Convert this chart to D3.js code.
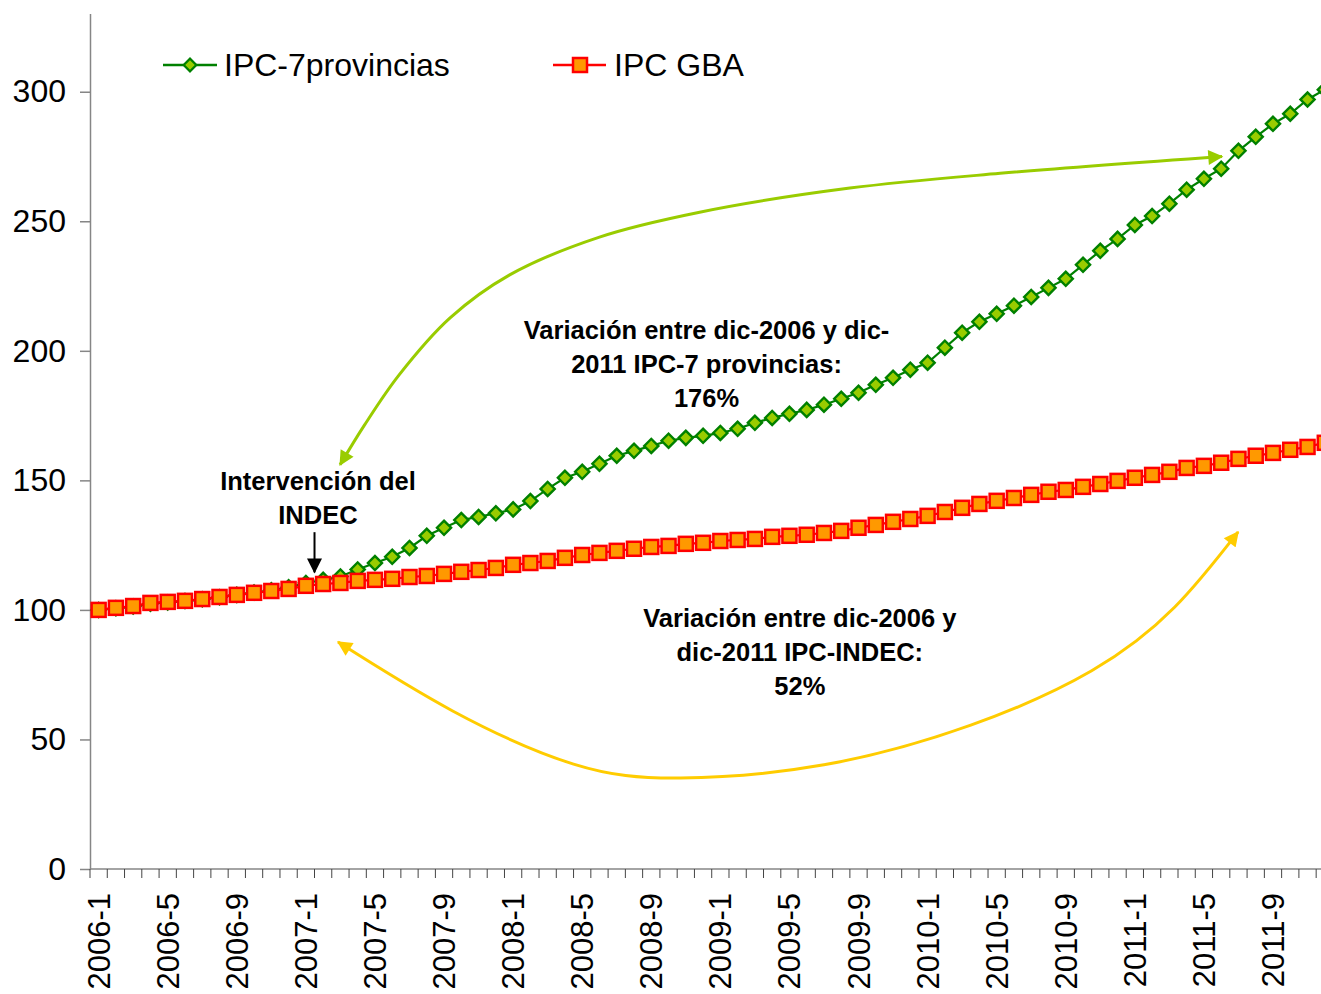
<!DOCTYPE html>
<html>
<head>
<meta charset="utf-8">
<script src="https://cdn.jsdelivr.net/npm/d3@7"></script>
<style>
  body { margin: 0; background: #fff; }
  svg { display: block; font-family: "Liberation Sans", Arial, sans-serif; }
</style>
</head>
<body>
<script>
// months 2006-1 .. 2011-12
var years = [2006, 2007, 2008, 2009, 2010, 2011];
var months = [];
years.forEach(function (y) {
  for (var m = 1; m <= 12; m++) months.push(y + '-' + m);
});

// IPC-7 provincias (base 2006-1 = 100)
var ipc7 = [
  100, 100.6, 101.3, 102.4, 102.9, 103.4, 104.1, 104.9, 105.8, 106.7, 107.6, 108.7,
  110.4, 111.6, 112.9, 115.6, 118.1, 120.5, 123.9, 128.6, 131.7, 134.7, 135.9, 137.3,
  138.8, 142.0, 146.7, 151.0, 153.3, 156.4, 159.5, 161.4, 163.3, 165.3, 166.4, 167.2,
  168.3, 169.9, 172.2, 174.1, 175.7, 177.2, 179.2, 181.5, 183.8, 186.9, 189.6, 192.7,
  195.4, 201.2, 207.0, 211.2, 214.3, 217.4, 220.8, 224.3, 227.8, 233.2, 238.6, 243.2,
  248.6, 252.0, 256.8, 262.2, 266.4, 270.3, 277.2, 282.6, 287.6, 291.5, 297.0, 300.8
];

// IPC GBA (INDEC)
var ipcGba = [
  100, 100.8, 101.5, 102.7, 103.1, 103.5, 104.2, 105.0, 105.8, 106.6, 107.3, 108.1,
  109.3, 110.0, 110.4, 111.2, 111.6, 112.0, 112.7, 113.1, 113.9, 114.7, 115.4, 116.2,
  117.4, 118.1, 118.9, 120.1, 121.2, 122.0, 122.8, 123.6, 124.3, 124.7, 125.5, 125.9,
  126.6, 127.0, 127.4, 128.2, 128.6, 129.0, 129.7, 130.5, 131.7, 132.8, 134.0, 135.1,
  136.3, 137.8, 139.4, 140.9, 142.1, 143.2, 144.4, 145.6, 146.3, 147.5, 148.6, 149.8,
  151.0, 152.1, 153.3, 154.8, 155.6, 156.8, 158.3, 159.5, 160.6, 161.8, 162.9, 164.5
];

var yTicks = [0, 50, 100, 150, 200, 250, 300];
var seriesNames = ['IPC-7provincias', 'IPC GBA'];

// annotation texts
var noteIndec = ['Intervención del', 'INDEC'];
var note7 = ['Variación entre dic-2006 y dic-', '2011 IPC-7 provincias:', '176%'];
var noteGba = ['Variación entre dic-2006 y', 'dic-2011 IPC-INDEC:', '52%'];

var W = 1321, H = 994;
var plotLeft = 90, plotBottom = 869, plotTop = 14, step = 17.27;

var svg = d3.select('body').append('svg')
  .attr('width', W).attr('height', H);

var x = d3.scaleBand().domain(months).range([plotLeft, plotLeft + step * months.length]).padding(0);
var y = d3.scaleLinear().domain([0, 330]).range([plotBottom, plotTop]);
var cx = function (i) { return x(months[i]) + x.bandwidth() / 2; };
// fractional month index -> pixel
var fx = function (t) { return x(months[0]) + x.bandwidth() / 2 + t * x.bandwidth(); };

// arrow heads
var defs = svg.append('defs');
[['headGreen', '#99cc00'], ['headYellow', '#ffcc00'], ['headBlack', '#000']].forEach(function (d) {
  defs.append('marker')
    .attr('id', d[0])
    .attr('viewBox', '0 0 12 12')
    .attr('refX', 11).attr('refY', 6)
    .attr('markerWidth', 16).attr('markerHeight', 15)
    .attr('markerUnits', 'userSpaceOnUse')
    .attr('orient', 'auto-start-reverse')
    .append('path')
    .attr('d', 'M0,0 L12,6 L0,12 z')
    .attr('fill', d[1]);
});

// axes
var axisColor = '#868686';
var yAxis = svg.append('g')
  .attr('transform', 'translate(' + plotLeft + ',0)')
  .call(d3.axisLeft(y).tickValues(yTicks).tickSize(10).tickPadding(14));
yAxis.select('.domain').attr('stroke', axisColor).attr('stroke-width', 1.5)
  .attr('d', 'M0.5,' + plotTop + 'V' + plotBottom);
yAxis.selectAll('.tick line').attr('stroke', axisColor).attr('stroke-width', 1.5);
yAxis.selectAll('.tick text').attr('font-size', 32).attr('fill', '#000')
  .attr('font-family', '"Liberation Sans", Arial, sans-serif');

var xAxis = svg.append('g').attr('transform', 'translate(0,' + plotBottom + ')');
xAxis.append('line')
  .attr('x1', plotLeft).attr('x2', W)
  .attr('stroke', axisColor).attr('stroke-width', 1.5);
xAxis.selectAll('line.tk')
  .data(d3.range(months.length + 1))
  .enter().append('line')
  .attr('class', 'tk')
  .attr('x1', function (i) { return plotLeft + i * x.bandwidth(); })
  .attr('x2', function (i) { return plotLeft + i * x.bandwidth(); })
  .attr('y1', 0).attr('y2', 9)
  .attr('stroke', '#444').attr('stroke-width', 1);
xAxis.selectAll('text')
  .data(months.filter(function (m, i) { return i % 4 === 0; }))
  .enter().append('text')
  .attr('transform', function (m) {
    return 'translate(' + (x(m) + x.bandwidth() / 2 + 11) + ',24) rotate(-90)';
  })
  .attr('text-anchor', 'end')
  .attr('font-size', 31)
  .text(function (m) { return m; });

// series
var line = d3.line()
  .x(function (d, i) { return cx(i); })
  .y(function (d) { return y(d); });

svg.append('path').datum(ipc7)
  .attr('d', line).attr('fill', 'none')
  .attr('stroke', '#008000').attr('stroke-width', 2.2);
svg.append('g').selectAll('path')
  .data(ipc7).enter().append('path')
  .attr('d', d3.symbol().type(d3.symbolSquare).size(100))
  .attr('transform', function (d, i) { return 'translate(' + cx(i) + ',' + y(d) + ') rotate(45)'; })
  .attr('fill', '#99cc00').attr('stroke', '#008000').attr('stroke-width', 2.4);

svg.append('path').datum(ipcGba)
  .attr('d', line).attr('fill', 'none')
  .attr('stroke', '#ff0000').attr('stroke-width', 2.2);
svg.append('g').selectAll('rect')
  .data(ipcGba).enter().append('rect')
  .attr('x', function (d, i) { return cx(i) - 7; })
  .attr('y', function (d) { return y(d) - 7; })
  .attr('width', 14).attr('height', 14)
  .attr('fill', '#ff9900').attr('stroke', '#ff0000').attr('stroke-width', 2.5);

// legend
var lg = svg.append('g').attr('font-size', 32);
lg.append('line').attr('x1', 163).attr('x2', 217).attr('y1', 65).attr('y2', 65)
  .attr('stroke', '#008000').attr('stroke-width', 2.5);
lg.append('path').attr('d', d3.symbol().type(d3.symbolSquare).size(80))
  .attr('transform', 'translate(190,65) rotate(45)')
  .attr('fill', '#99cc00').attr('stroke', '#008000').attr('stroke-width', 2.2);
lg.append('text').attr('x', 224).attr('y', 76).text(seriesNames[0]);
lg.append('line').attr('x1', 553).attr('x2', 606).attr('y1', 65).attr('y2', 65)
  .attr('stroke', '#ff0000').attr('stroke-width', 2.5);
lg.append('rect').attr('x', 573).attr('y', 58).attr('width', 14).attr('height', 14)
  .attr('fill', '#ff9900').attr('stroke', '#ff0000').attr('stroke-width', 2.5);
lg.append('text').attr('x', 614).attr('y', 76).text(seriesNames[1]);

// annotation curves, anchored in data space [month index, value]
var greenCurve = [[13.98, 156], [15.4, 171.4], [17.4, 190.7], [20.35, 212.7], [23.8, 229.3],
  [29.0, 243.9], [34.8, 253.5], [43.5, 262.8], [52.2, 268.5], [65.05, 275]];
var yellowCurve = [[13.86, 87.6], [20.5, 61], [27.5, 40.5], [33.7, 35.1],
  [42.0, 40.2], [50.5, 55.5], [57.5, 76.5], [62.3, 101], [65.98, 130.1]];
var curve = d3.line()
  .x(function (d) { return fx(d[0]); })
  .y(function (d) { return y(d[1]); })
  .curve(d3.curveCatmullRom.alpha(0.5));

svg.append('path').datum(greenCurve)
  .attr('d', curve).attr('fill', 'none')
  .attr('stroke', '#99cc00').attr('stroke-width', 3)
  .attr('marker-start', 'url(#headGreen)').attr('marker-end', 'url(#headGreen)');
svg.append('path').datum(yellowCurve)
  .attr('d', curve.curve(d3.curveNatural)).attr('fill', 'none')
  .attr('stroke', '#ffcc00').attr('stroke-width', 3)
  .attr('marker-start', 'url(#headYellow)').attr('marker-end', 'url(#headYellow)');

// INDEC intervention arrow
svg.append('line')
  .attr('x1', fx(12.5)).attr('x2', fx(12.5))
  .attr('y1', y(130)).attr('y2', y(114.5))
  .attr('stroke', '#000').attr('stroke-width', 2)
  .attr('marker-end', 'url(#headBlack)');

function note(lines, tx, ty) {
  var g = svg.append('g')
    .attr('font-size', 25.5).attr('font-weight', 'bold').attr('text-anchor', 'middle');
  lines.forEach(function (t, i) {
    g.append('text').attr('x', tx).attr('y', ty + i * 34).text(t);
  });
}
note(noteIndec, fx(12.7), y(146.2));
note(note7, fx(35.2), y(204.6));
note(noteGba, fx(40.6), y(93.4));
</script>
</body>
</html>
